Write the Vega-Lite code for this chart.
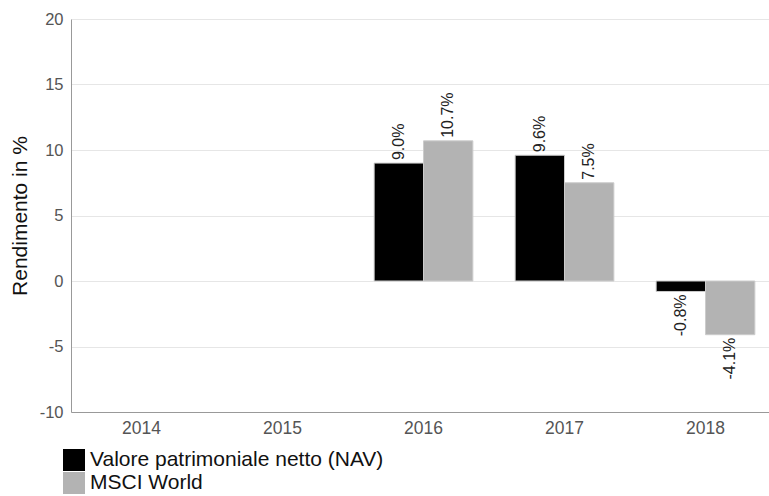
{
  "$schema": "https://vega.github.io/schema/vega-lite/v6.json",
  "autosize": {"type": "none"},
  "width": 705,
  "height": 393,
  "padding": {"left": 71, "top": 19, "right": 0, "bottom": 84},
  "background": "white",
  "config": {
    "font": "Liberation Sans",
    "view": {"stroke": null},
    "axis": {
      "labelFont": "Liberation Sans",
      "titleFont": "Liberation Sans",
      "labelColor": "#555555",
      "labelFontSize": 16.5,
      "ticks": false,
      "domainColor": "#999999",
      "gridColor": "#e6e6e6",
      "labelPadding": 8
    },
    "legend": {"padding": 0}
  },
  "data": {
    "values": [
      {"year": "2016", "series": "Valore patrimoniale netto (NAV)", "value": 9.0, "label": "9.0%"},
      {"year": "2016", "series": "MSCI World", "value": 10.7, "label": "10.7%"},
      {"year": "2017", "series": "Valore patrimoniale netto (NAV)", "value": 9.6, "label": "9.6%"},
      {"year": "2017", "series": "MSCI World", "value": 7.5, "label": "7.5%"},
      {"year": "2018", "series": "Valore patrimoniale netto (NAV)", "value": -0.8, "label": "-0.8%"},
      {"year": "2018", "series": "MSCI World", "value": -4.1, "label": "-4.1%"}
    ]
  },
  "encoding": {
    "x": {
      "field": "year",
      "type": "nominal",
      "scale": {"domain": ["2014", "2015", "2016", "2017", "2018"], "paddingInner": 0.3, "paddingOuter": 0.15},
      "axis": {"title": null, "labelAngle": 0, "grid": false, "domain": true, "labelPadding": 7, "labelFontSize": 17.5}
    },
    "xOffset": {
      "field": "series",
      "type": "nominal",
      "scale": {"domain": ["Valore patrimoniale netto (NAV)", "MSCI World"], "paddingInner": 0, "paddingOuter": 0}
    },
    "y": {
      "field": "value",
      "type": "quantitative",
      "scale": {"domain": [-10, 20], "nice": false, "zero": false},
      "axis": {
        "title": "Rendimento in %",
        "titleFontSize": 21,
        "titleFontWeight": "normal",
        "titleColor": "#111111",
        "titlePadding": 9,
        "values": [-10, -5, 0, 5, 10, 15, 20],
        "labelExpr": "replace(datum.label, '\u2212', '-')",
        "grid": true,
        "domain": true
      }
    }
  },
  "layer": [
    {
      "mark": {"type": "bar", "stroke": "#cccccc", "strokeWidth": 1},
      "encoding": {
        "color": {
          "field": "series",
          "type": "nominal",
          "scale": {"domain": ["Valore patrimoniale netto (NAV)", "MSCI World"], "range": ["#000000", "#b3b3b3"]},
          "legend": {
            "title": null,
            "orient": "none",
            "legendX": -8,
            "legendY": 430,
            "symbolType": "square",
            "symbolSize": 484,
            "symbolStrokeWidth": 0,
            "labelFontSize": 21,
            "labelColor": "#111111",
            "labelFont": "Liberation Sans",
            "labelOffset": 5,
            "rowPadding": 1,
            "labelLimit": 500
          }
        }
      }
    },
    {
      "mark": {
        "type": "text",
        "angle": 270,
        "baseline": "middle",
        "align": {"expr": "datum.value >= 0 ? 'left' : 'right'"},
        "dx": {"expr": "datum.value >= 0 ? 3 : -3"},
        "fontSize": 16,
        "color": "#222222"
      },
      "encoding": {
        "text": {"field": "label", "type": "nominal"}
      }
    }
  ]
}
